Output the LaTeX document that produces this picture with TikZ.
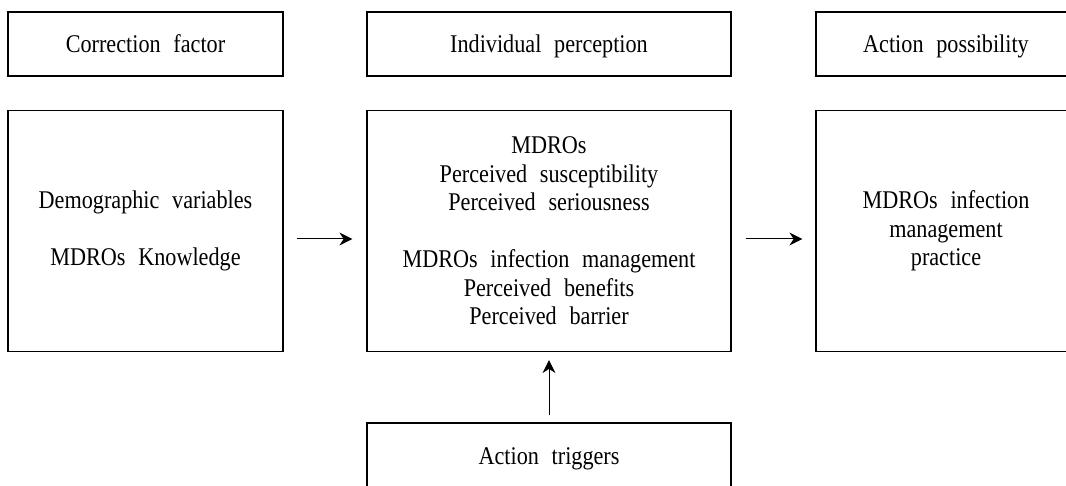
\documentclass[tikz,border=0pt]{standalone}
\usepackage{fontspec}
\setmainfont{Liberation Serif}[FakeStretch=0.87,WordSpace={2.3,0,0}]
\usetikzlibrary{arrows.meta}
\begin{document}
\begin{tikzpicture}[x=1pt,y=-1pt,
  box/.style={draw,line width=1.2pt,inner sep=0pt,anchor=center,align=center,
    font=\fontsize{25.5}{28.5}\selectfont},
  hdr/.style={box,minimum height=64pt,text height=19pt,text depth=1pt},
  body/.style={box,minimum height=241pt},
  arr/.style={line width=1pt,-{Stealth[length=13pt,width=13pt]}}]
\useasboundingbox (0,0) rectangle (1066,486);
\clip (0,0) rectangle (1066,486);
\node[hdr,minimum width=275pt] (cf) at (145.5,44) {Correction factor};
\node[hdr,minimum width=364pt] (ip) at (549,44) {Individual perception};
\node[hdr,minimum width=260pt] (ap) at (946,44) {Action possibility};
\node[body,minimum width=275pt] (lb) at (145.5,231) {Demographic variables\\[28.5pt]MDROs Knowledge};
\node[body,minimum width=364pt] (mb) at (549,231) {MDROs\\Perceived susceptibility\\Perceived seriousness\\[28.5pt]MDROs infection management\\Perceived benefits\\Perceived barrier};
\node[body,minimum width=260pt] (rb) at (946,231) {MDROs infection\\management\\practice};
\node[hdr,minimum width=364pt] (at) at (549,455) {Action triggers};
\draw[arr,shorten <=13pt,shorten >=14pt] ([yshift=-8pt]lb.east) -- ([yshift=-8pt]mb.west);
\draw[arr,shorten <=14pt,shorten >=13pt] ([yshift=-8pt]mb.east) -- ([yshift=-8pt]rb.west);
\draw[arr,shorten <=7pt,shorten >=8pt] (at.north) -- (mb.south);
\end{tikzpicture}
\end{document}
